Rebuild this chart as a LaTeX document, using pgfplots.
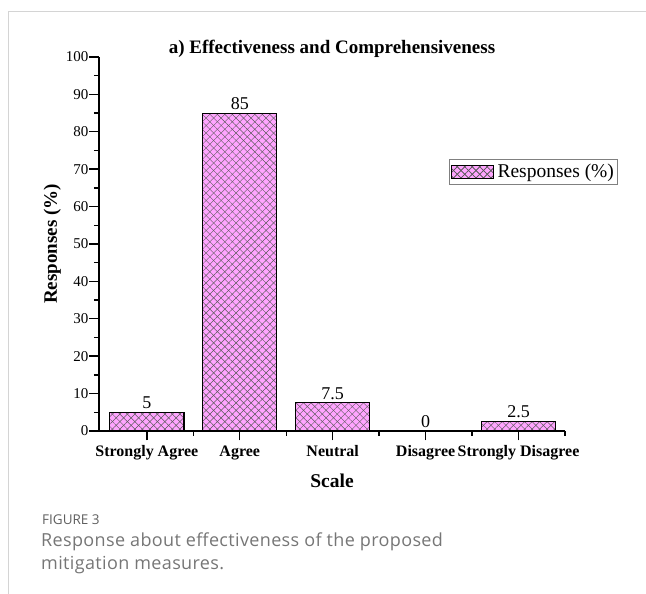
\documentclass[border=0pt]{standalone}
\usepackage{fontspec}
\setmainfont{Liberation Serif}
\newfontfamily\capfont{Open Sans}
\newfontfamily\capfontwide{Open Sans}[LetterSpace=2]
\usepackage{pgfplots}
\pgfplotsset{compat=1.18}
\usetikzlibrary{patterns.meta}
\definecolor{barpink}{RGB}{255,165,255}
\definecolor{framegray}{RGB}{212,212,212}
\definecolor{capgray}{RGB}{118,118,118}
\definecolor{capdark}{RGB}{95,95,95}
\tikzset{
  hatchbar/.style={fill=barpink, draw=black, line width=1.1pt,
    postaction={pattern={Lines[angle=45,distance=5.3pt,line width=0.45pt]}, pattern color=black!65},
    postaction={pattern={Lines[angle=-45,distance=5.3pt,line width=0.45pt]}, pattern color=black!65}}
}
\begin{document}
\begin{tikzpicture}
\useasboundingbox (0pt,0pt) rectangle (646pt,594pt);
\draw[framegray, line width=1pt] (8pt,0pt) -- (8pt,582pt) -- (646pt,582pt);
\begin{axis}[
  at={(99pt,163pt)}, anchor=south west,
  scale only axis, width=466pt, height=374pt,
  xmin=-0.515, xmax=4.5, ymin=0, ymax=100,
  axis x line*=bottom, axis y line*=left,
  axis line style={line width=1.6pt, -},
  xtick={0,1,2,3,4},
  xticklabels={Strongly Agree, Agree, Neutral, Disagree, Strongly Disagree},
  minor xtick={0.5,1.5,2.5,3.5,4.5},
  ytick={0,10,...,100}, minor ytick={5,15,...,95},
  tick align=outside, major tick length=9.5pt, minor tick length=5pt,
  every tick/.style={black, line width=1.4pt},
  /pgf/number format/assume math mode=true,
  yticklabel style={font=\fontsize{15}{16}\selectfont, inner sep=1pt},
  xticklabel style={font=\bfseries\fontsize{16}{18}\selectfont, yshift=-1.5pt},
  xlabel={Scale},
  xlabel style={at={(axis description cs:0.5,0)}, anchor=base, yshift=-57pt, font=\bfseries\fontsize{19.5}{22}\selectfont},
  ylabel={Responses (\%)},
  ylabel style={at={(axis description cs:-0.1,0.5)}, anchor=center, font=\bfseries\fontsize{19}{22}\selectfont},
  title={a) Effectiveness and Comprehensiveness},
  title style={at={(axis description cs:0.5,1)}, anchor=base, yshift=-3pt, font=\bfseries\fontsize{19}{21}\selectfont},
  ybar, bar width=0.8,
  nodes near coords,
  nodes near coords style={font=\fontsize{18}{20}\selectfont, inner sep=3pt, anchor=south},
  legend style={at={(rel axis cs:1.1135,0.726)}, anchor=north east, draw=gray, line width=0.8pt,
    font=\fontsize{19.5}{21}\selectfont, inner xsep=2pt, inner ysep=3pt, nodes={inner sep=1.5pt},
    /tikz/every odd column/.append style={column sep=2pt}},
  legend image code/.code={\draw[hatchbar, line width=0.9pt] (0pt,-6.5pt) rectangle (42pt,6.5pt);},
]
\addplot[hatchbar] coordinates {(0,5) (1,85) (2,7.5) (3,0) (4,2.5)};
\addlegendentry{Responses (\%)}
\end{axis}
\node[anchor=base west, font=\capfont\fontsize{13.5}{15}\selectfont, text=capdark, inner sep=0pt] at (42pt,69pt) {FIGURE 3};
\node[anchor=base west, font=\capfontwide\fontsize{18}{20}\selectfont, text=capgray, inner sep=0pt] at (41pt,47pt) {Response about effectiveness of the proposed};
\node[anchor=base west, font=\capfontwide\fontsize{18}{20}\selectfont, text=capgray, inner sep=0pt] at (41pt,24pt) {mitigation measures.};
\end{tikzpicture}
\end{document}
